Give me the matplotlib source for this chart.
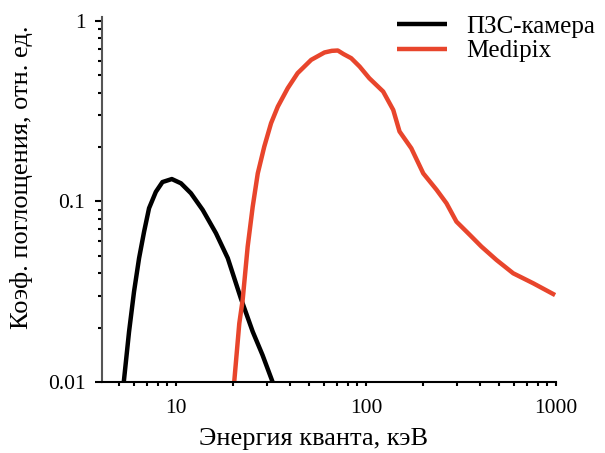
import numpy as np
import matplotlib
matplotlib.use("Agg")
import matplotlib.pyplot as plt
from matplotlib.ticker import NullFormatter

plt.rcParams['font.family'] = ['Liberation Serif', 'DejaVu Serif']

# ПЗС-камера
ccd_e = [5.3, 5.65, 6.0, 6.38, 6.78, 7.2, 7.82, 8.47, 9.49, 10.6, 11.96, 13.8, 16.2,
         18.7, 21.9, 25.3, 28.5, 32.2]
ccd_k = [0.01, 0.019, 0.0316, 0.0485, 0.068, 0.0917, 0.113, 0.128, 0.133, 0.126, 0.111,
         0.0897, 0.0667, 0.0485, 0.0291, 0.019, 0.0141, 0.01]

# Medipix
mpx_e = [20.2, 21.5, 22.4, 23.8, 25.3, 26.9, 29.1, 31.6, 34.3, 38.7, 43.6, 51.4, 60.4, 66.0,
         71.0, 76.0, 83.5, 92.5, 104, 123, 139, 150, 173, 200, 235, 265, 299, 352, 405, 486,
         595, 759, 989]
mpx_k = [0.0099, 0.0211, 0.0285, 0.0562, 0.0936, 0.143, 0.201, 0.271, 0.335, 0.424, 0.513,
         0.608, 0.668, 0.682, 0.685, 0.655, 0.621, 0.558, 0.481, 0.406, 0.321, 0.244, 0.197,
         0.143, 0.116, 0.0977, 0.0773, 0.0652, 0.0562, 0.0474, 0.040, 0.0352, 0.0303]

xticks = [10, 100, 1000]
xlabels = ["10", "100", "1000"]
yticks = [0.01, 0.1, 1]
ylabels = ["0.01", "0.1", "1"]

fig = plt.figure(figsize=(6.05, 4.53), dpi=100)
ax = fig.add_axes([102/605, 1 - 382/453, 454/605, 365/453])

ax.plot(ccd_e, ccd_k, color="black", lw=3.2, label="ПЗС-камера",
        solid_capstyle="butt", solid_joinstyle="round")
ax.plot(mpx_e, mpx_k, color="#e8452c", lw=3.2, label="Medipix",
        solid_capstyle="butt", solid_joinstyle="round")

ax.set_xscale("log")
ax.set_yscale("log")
ax.set_xlim(4.07, 1000)
ax.set_ylim(0.01, 1.05)

ax.set_xticks(xticks, xlabels)
ax.set_yticks(yticks, ylabels)
ax.xaxis.set_minor_formatter(NullFormatter())
ax.yaxis.set_minor_formatter(NullFormatter())

for s in ["top", "right"]:
    ax.spines[s].set_visible(False)
ax.spines["left"].set_color("#555555")
ax.spines["left"].set_linewidth(1.5)
ax.spines["bottom"].set_linewidth(1.5)

ax.tick_params(axis="y", which="major", length=5, width=1.5, labelsize=15.5, pad=7)
ax.tick_params(axis="y", which="minor", length=3, width=1.5)
ax.tick_params(axis="x", which="major", length=3, width=1.5, labelsize=15.5, pad=9)
ax.tick_params(axis="x", which="minor", length=3, width=1.5)

ax.set_xlabel("Энергия кванта, кэВ", fontsize=19)
ax.set_ylabel("Коэф. поглощения, отн. ед.", fontsize=19)
ax.xaxis.set_label_coords(0.465, -0.125)
ax.yaxis.set_label_coords(-0.152, 0.56)

ax.legend(loc="upper left", bbox_to_anchor=(397/605, 1 - 15/453), bbox_transform=fig.transFigure,
          frameon=False, fontsize=18, borderpad=0, borderaxespad=0,
          handlelength=2.0, handletextpad=0.76, labelspacing=0.1)

fig.savefig("out.png", dpi=100)
